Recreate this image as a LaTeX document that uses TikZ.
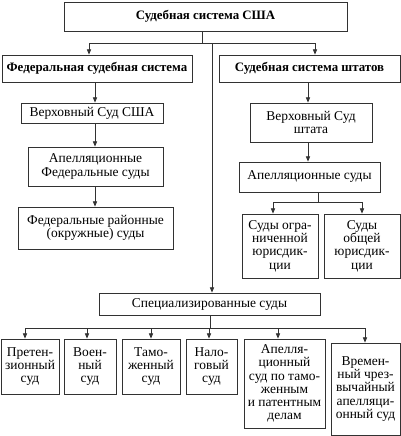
\documentclass[tikz,border=0pt]{standalone}
\usepackage{fontspec}
\setmainfont{Liberation Serif}
\usepackage{tikz}
\usetikzlibrary{arrows.meta, positioning, calc}
\definecolor{ink}{RGB}{50, 50, 50}

\begin{document}
\begin{tikzpicture}[
  x=0.03cm, y=-0.03cm,
  box/.style={draw=ink, line width=0.7pt, align=center, inner sep=1pt,
              text=black, font=\fontsize{11.5}{11.3}\selectfont},
  head/.style={box, font=\fontsize{11}{11.3}\selectfont\bfseries},
  sz/.style 2 args={minimum width=#1*0.03cm, minimum height=#2*0.03cm},
  arr/.style={-{Triangle[length=4.5pt, width=3.6pt]}, line width=0.7pt, ink},
  line/.style={line width=0.7pt, ink}
]
  \useasboundingbox (0,0) rectangle (401,436);

  \node[head, sz={283}{29}] (usa) at (205.5, 16.5) {Судебная система США};
  \node[head, sz={190}{27}] (fed) at (97, 68.5) {Федеральная судебная система};
  \node[head, sz={181}{27}] (st) at (309.5, 68.5) {Судебная система штатов};

  \node[box, sz={142}{20}] (vsusa) at (92, 113) {Верховный Суд США};
  \node[box, sz={135}{39}] (apfed) at (95.5, 166.5) {Апелляционные\\Федеральные суды};
  \node[box, sz={155}{42}] (raion) at (95.5, 228) {Федеральные районные\\(окружные) суды};

  \node[box, sz={122}{39}] (vsst) at (311, 122.5) {Верховный Суд\\штата};
  \node[box, sz={141}{30}] (apst) at (309.5, 177) {Апелляционные суды};
  \node[box, sz={76}{64}] (ogr) at (280, 246) {Суды огра-\\ниченной\\юрисдик-\\ции};
  \node[box, sz={76}{64}] (obsh) at (362, 246) {Суды\\общей\\юрисдик-\\ции};

  \node[box, sz={221}{22}] (spec) at (209.5, 304) {Специализированные суды};
  \node[box, sz={58}{55}] (pret) at (30, 366.5) {Претен-\\зионный\\суд};
  \node[box, sz={52}{55}] (voen) at (90, 366.5) {Воен-\\ный\\суд};
  \node[box, sz={58}{55}] (tam) at (151, 366.5) {Тамо-\\женный\\суд};
  \node[box, sz={51}{55}] (nal) at (211.5, 366.5) {Нало-\\говый\\суд};
  \node[box, sz={81}{89}] (apat) at (284.5, 383.5) {Апелля-\\ционный\\суд по тамо-\\женным\\и патентным\\делам};
  \node[box, sz={69}{92}] (vrem) at (365.5, 389) {Времен-\\ный чрез-\\вычайный\\апелляци-\\онный суд};

  % top branching
  \coordinate (top) at (202, 43);
  \coordinate (topl) at (89, 43);
  \coordinate (topr) at (315, 43);
  \coordinate (topm) at (212, 43);
  \draw[line] (usa.south -| top) -- (top);
  \draw[line] (topl) -- (topr);
  \draw[arr] (topl) -- (topl |- fed.north);
  \draw[arr] (topr) -- (topr |- st.north);
  \draw[arr] (topm) -- (topm |- spec.north);

  % federal courts
  \coordinate (fx) at (95, 0);
  \draw[arr] (fed.south -| fx) -- (vsusa.north -| fx);
  \draw[arr] (vsusa.south -| fx) -- (apfed.north -| fx);
  \draw[arr] (apfed.south -| fx) -- (raion.north -| fx);

  % state courts
  \coordinate (sx) at (308, 0);
  \draw[arr] (st.south -| sx) -- (vsst.north -| sx);
  \draw[arr] (vsst.south -| sx) -- (apst.north -| sx);
  \coordinate (stj) at (318, 202);
  \coordinate (stl) at (273, 202);
  \coordinate (str) at (362, 202);
  \draw[line] (apst.south -| stj) -- (stj);
  \draw[line] (stl) -- (str);
  \draw[arr] (stl) -- (stl |- ogr.north);
  \draw[arr] (str) -- (str |- obsh.north);

  % specialized courts
  \coordinate (spj) at (210, 328);
  \coordinate (spl) at (25, 328);
  \coordinate (spr) at (365, 328);
  \draw[line] (spec.south -| spj) -- (spj);
  \draw[line] (spl) -- (spr);
  \foreach \xx/\tgt in {25/pret, 87/voen, 151/tam, 209/nal, 278/apat, 365/vrem} {
    \coordinate (c) at (\xx, 328);
    \draw[arr] (c) -- (c |- \tgt.north);
  }
\end{tikzpicture}
\end{document}
